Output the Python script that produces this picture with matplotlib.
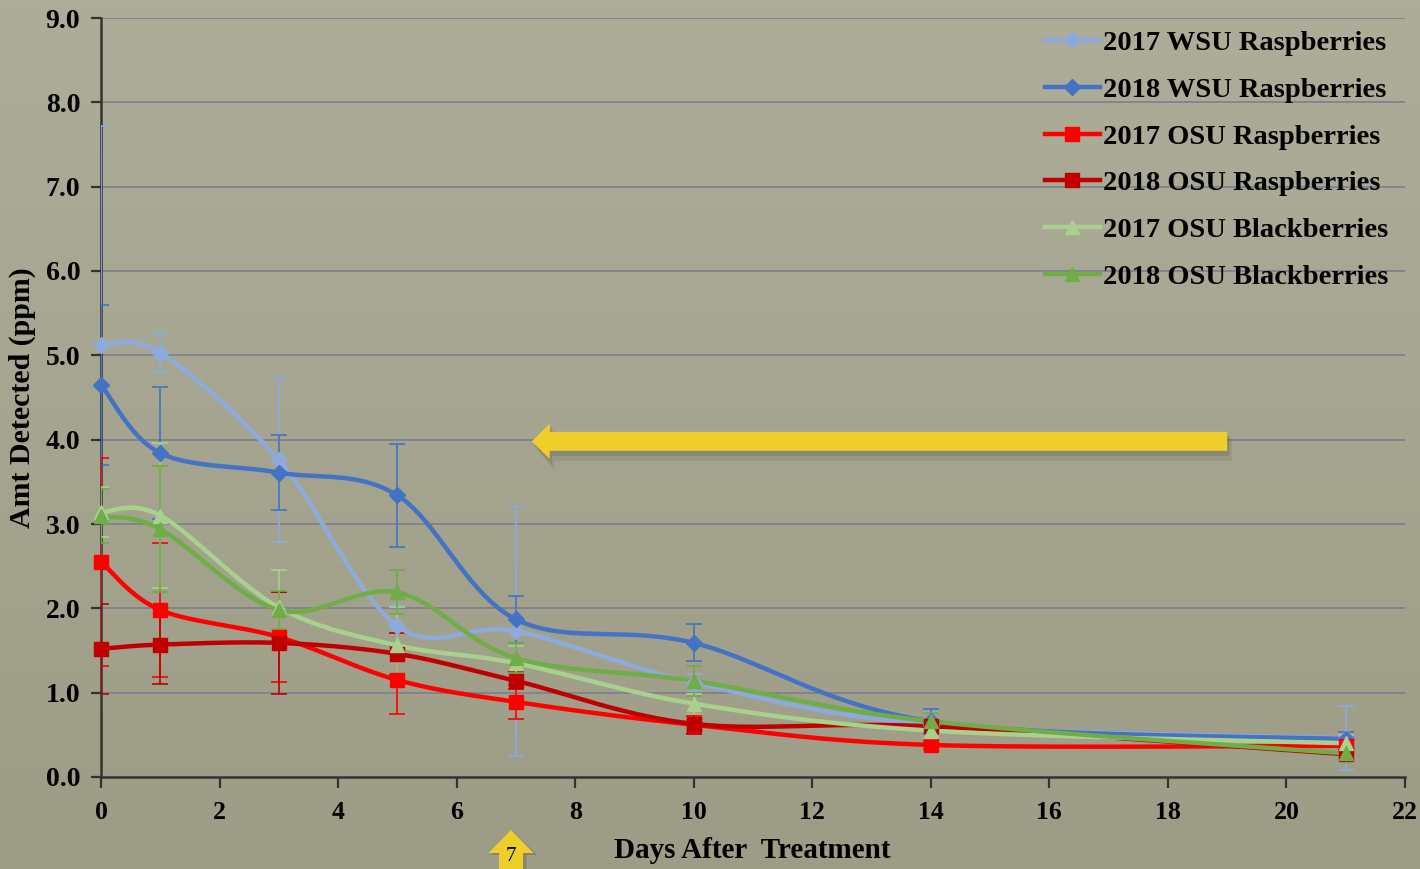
import numpy as np
import matplotlib
matplotlib.use("Agg")
import matplotlib.pyplot as plt
from matplotlib.patches import FancyArrow

# ---------------- data ----------------
days = [0, 1, 3, 5, 7, 10, 14, 21]

labels = ["2017 WSU Raspberries", "2018 WSU Raspberries",
          "2017 OSU Raspberries", "2018 OSU Raspberries",
          "2017 OSU Blackberries", "2018 OSU Blackberries"]

wsu17 = [5.12, 5.03, 3.76, 1.79, 1.73, 1.12, 0.62, 0.46]
wsu18 = [4.65, 3.84, 3.61, 3.34, 1.87, 1.59, 0.66, 0.45]
osu17r = [2.55, 1.98, 1.66, 1.15, 0.89, 0.62, 0.38, 0.37]
osu18r = [1.52, 1.57, 1.59, 1.46, 1.14, 0.63, 0.60, 0.27]
osu17b = [3.14, 3.10, 2.01, 1.56, 1.35, 0.87, 0.55, 0.40]
osu18b = [3.09, 2.94, 1.98, 2.19, 1.41, 1.14, 0.66, 0.28]

wsu17_err = [2.60, 0.23, 0.97, 0.25, 1.48, 0.10, 0.15, 0.38]
wsu18_err = [0.95, 0.78, 0.44, 0.61, 0.28, 0.22, 0.15, 0.08]
osu17r_err = [1.23, 0.80, 0.53, 0.40, 0.20, 0.10, 0.05, 0.10]
osu18r_err = [0.53, 0.47, 0.60, 0.25, 0.10, 0.12, 0.05, 0.05]
osu17b_err = [0.30, 0.86, 0.45, 0.45, 0.20, 0.12, 0.10, 0.10]
osu18b_err = [0.32, 0.75, 0.22, 0.26, 0.18, 0.18, 0.10, 0.06]

series = [wsu17, wsu18, osu17r, osu18r, osu17b, osu18b]
errors = [wsu17_err, wsu18_err, osu17r_err, osu18r_err, osu17b_err, osu18b_err]
colors = ["#8EAADC", "#4472C4", "#FF0000", "#C00000", "#A9D18E", "#70AD47"]
markers = ["D", "D", "s", "s", "^", "^"]
msizes = [8, 8, 10, 10, 10, 10]

x_ticks = list(range(0, 23, 2))
y_ticks = [0, 1, 2, 3, 4, 5, 6, 7, 8, 9]

# ---------------- figure ----------------
W, H = 1420, 869
fig = plt.figure(figsize=(W / 100, H / 100), dpi=100)

# background gradient
grad = np.linspace(0, 1, 256).reshape(-1, 1)
top = np.array([0xAE, 0xAD, 0x9A]) / 255
bot = np.array([0x9D, 0x9C, 0x86]) / 255
img = top * (1 - grad[..., None]) + bot * grad[..., None]
img = np.repeat(img, 4, axis=1)
bg = fig.add_axes([0, 0, 1, 1], zorder=-10)
bg.imshow(img, aspect="auto", extent=[0, 1, 0, 1])
bg.axis("off")

L, R, B, T = 101 / W, 1405 / W, 1 - 777 / H, 1 - 18 / H
ax = fig.add_axes([L, B, R - L, T - B])
ax.patch.set_alpha(0)

xmin, xmax, ymin, ymax = 0, 22, 0, 9
ax.set_xlim(xmin, xmax)
ax.set_ylim(ymin, ymax)

sx = (R - L) * W / (xmax - xmin)
sy = (T - B) * H / (ymax - ymin)


def smooth(xs, ys, n=40):
    P = np.column_stack([np.asarray(xs, float) * sx, np.asarray(ys, float) * sy])
    Pe = np.vstack([P[0], P, P[-1]])
    out = []
    for i in range(1, len(Pe) - 2):
        p0, p1, p2, p3 = Pe[i - 1], Pe[i], Pe[i + 1], Pe[i + 2]
        c1 = p1 + (p2 - p0) / 6.0
        c2 = p2 - (p3 - p1) / 6.0
        t = np.linspace(0, 1, n)[:, None]
        seg = ((1 - t) ** 3) * p1 + 3 * ((1 - t) ** 2) * t * c1 + 3 * (1 - t) * t ** 2 * c2 + t ** 3 * p2
        out.append(seg if i == 1 else seg[1:])
    C = np.vstack(out)
    return C[:, 0] / sx, C[:, 1] / sy


serif = ["Liberation Serif", "DejaVu Serif"]

for yv in y_ticks[1:]:
    ax.axhline(yv, color="#7C7F8E", lw=1.2, zorder=0)

handles = []
for ys, es, c, m, ms, lab in zip(series, errors, colors, markers, msizes, labels):
    ax.errorbar(days, ys, yerr=es, fmt="none", ecolor=c, elinewidth=1.2,
                capsize=6, capthick=1.2, zorder=3)
    sxs, sys_ = smooth(days, ys)
    ax.plot(sxs, sys_, color=c, lw=3.2, zorder=3.2, solid_capstyle="round", clip_on=False)
    ax.plot(days, ys, linestyle="none", marker=m, markersize=ms,
            color=c, markeredgecolor=c, zorder=4, clip_on=False)
    h, = ax.plot([], [], color=c, lw=3.2, marker=m, markersize=ms,
                 markeredgecolor=c, label=lab)
    handles.append(h)

leg = ax.legend(handles=handles, loc="upper right", frameon=False,
                prop={"family": serif, "weight": "bold", "size": 20.5},
                handlelength=1.95, handletextpad=0.1, labelspacing=0.73,
                borderaxespad=0.0, bbox_to_anchor=(0.996, 0.999))

for s in ["top", "right"]:
    ax.spines[s].set_visible(False)
for s in ["left", "bottom"]:
    ax.spines[s].set_color("#333333")
    ax.spines[s].set_linewidth(1.8)
ax.set_xticks(x_ticks)
ax.set_yticks(y_ticks)
ax.set_yticklabels([f"{v:.1f}" for v in y_ticks])
ax.tick_params(axis="x", direction="out", length=8, width=1.6, color="#333333", pad=9)
ax.tick_params(axis="y", direction="out", length=7, width=1.6, color="#333333", pad=8)
for lab in ax.get_xticklabels():
    lab.set_fontfamily(serif)
    lab.set_fontweight("bold")
    lab.set_fontsize(18.5)
for lab in ax.get_yticklabels():
    lab.set_fontfamily(serif)
    lab.set_fontweight("bold")
    lab.set_fontsize(20)

ax.set_xlabel("Days After  Treatment", family=serif, weight="bold", fontsize=21)
ax.xaxis.set_label_coords((752 / W - L) / (R - L), -(850 - 777) / (777 - 18))
ax.xaxis.label.set_va("center")
ax.set_ylabel("Amt Detected (ppm)", family=serif, weight="bold", fontsize=21.5)
ax.yaxis.set_label_coords(-(101 - 22) / (1405 - 101), (777 - 398) / (777 - 18))
ax.yaxis.label.set_va("center")

# yellow arrow in the plot (with shadow)
yellow = "#EDCE2B"
for k, a in [(2, 0.12), (1, 0.2)]:
    ax.add_patch(FancyArrow(19.0 + 0.04 * k, 3.98 - 0.05 * k, -11.73, 0, width=0.225 + 0.02 * k,
                            head_width=0.42 + 0.03 * k, head_length=0.30,
                            length_includes_head=True, color="#4a4836", alpha=a, lw=0, zorder=5))
ax.add_patch(FancyArrow(19.0, 3.98, -11.73, 0, width=0.225, head_width=0.42,
                        head_length=0.30, length_includes_head=True, color=yellow,
                        lw=0, zorder=6))

# bottom up-arrow with "7"
ax2 = fig.add_axes([0, 0, 1, 1], zorder=5)
ax2.set_xlim(0, W)
ax2.set_ylim(H, 0)
ax2.axis("off")
ax2.add_patch(FancyArrow(511 + 3, H + 5, 0, -(H + 5 - 832), width=25, head_width=46,
                         head_length=23, length_includes_head=True, color="#4a4836",
                         alpha=0.25, lw=0))
ax2.add_patch(FancyArrow(511, H + 5, 0, -(H + 5 - 830), width=24, head_width=45,
                         head_length=23, length_includes_head=True, color=yellow, lw=0))
ax2.text(511, 866, "7", family=serif, fontsize=15, color="black", ha="center", va="bottom")

fig.savefig("out.png", dpi=100)
